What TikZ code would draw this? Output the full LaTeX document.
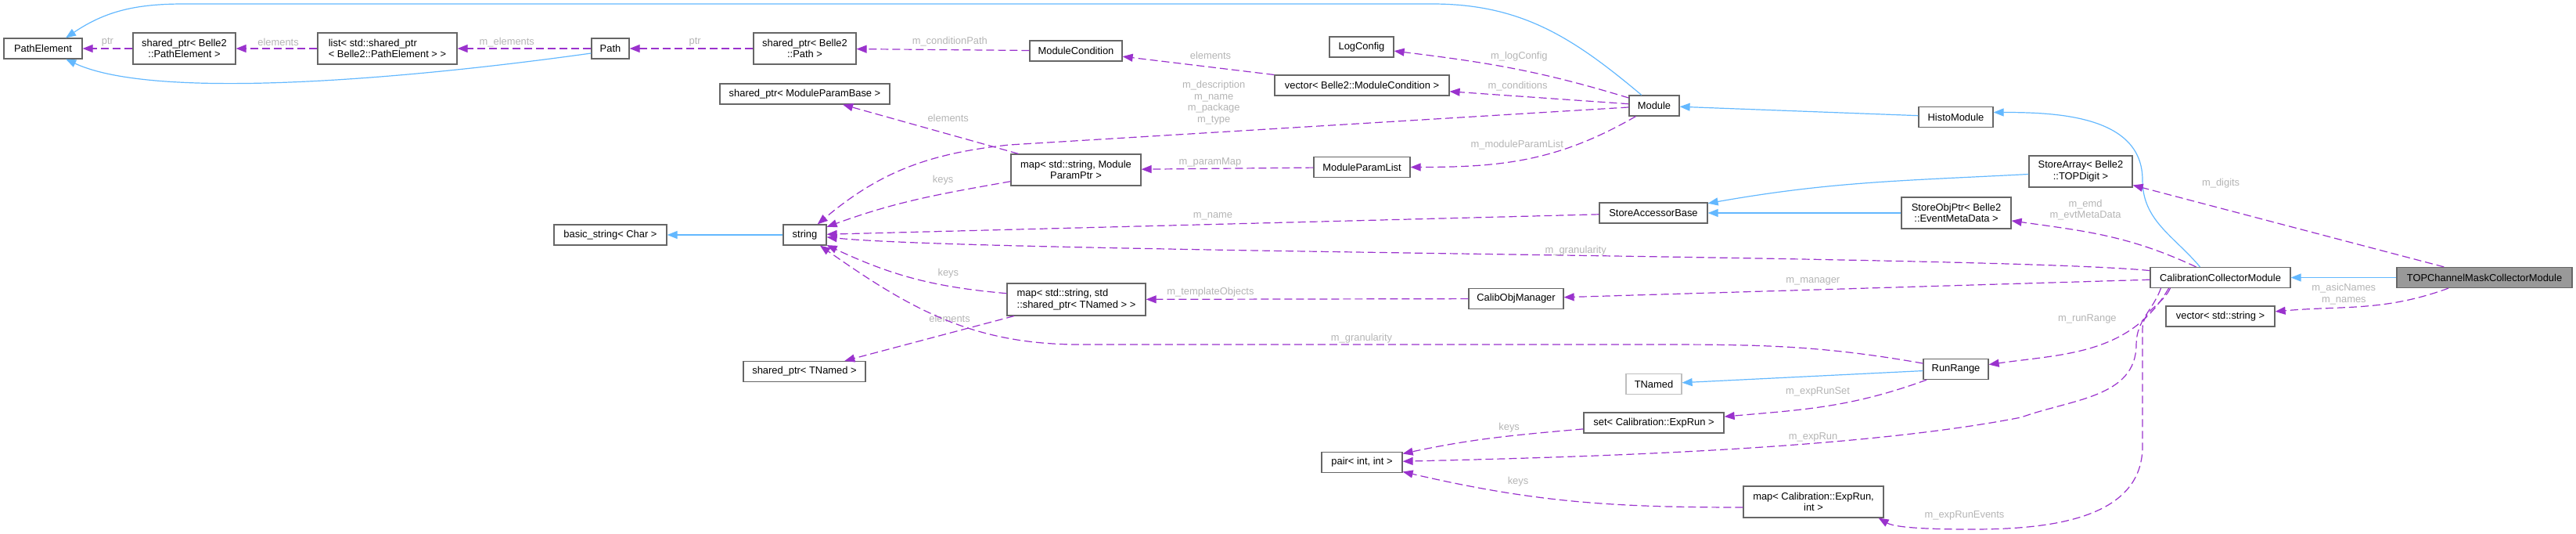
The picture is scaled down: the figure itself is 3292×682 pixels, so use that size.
\documentclass[tikz,border=0pt]{standalone}
\usepackage{fontspec}
\setmainfont{Liberation Sans}
\usetikzlibrary{arrows.meta}
\definecolor{usecolor}{HTML}{9A32CD}
\definecolor{basecolor}{HTML}{63B8FF}
\definecolor{boxgray}{HTML}{666666}
\definecolor{extgray}{HTML}{BFBFBF}
\definecolor{rootfill}{HTML}{999999}
\definecolor{labelgray}{HTML}{B4B4B4}

\begin{document}
\begin{tikzpicture}[->,>={Triangle[length=13pt,width=10pt]},x=1pt,y=-1pt,line width=1.2pt,
    class node/.style={rectangle,draw=boxgray,fill=white,text=black,inner sep=2pt,minimum height=26pt,align=center,font={\fontsize{12.9}{14.7}\selectfont}},
    root node/.style={class node,fill=rootfill},
    ext node/.style={class node,draw=extgray},
    base edge/.style={color=basecolor},
    uses edge/.style={color=usecolor,dash pattern=on 10pt off 5pt},
    edge label/.style={font={\fontsize{12.9}{14.7}\selectfont},text=labelgray,inner sep=0pt,align=center}]

\useasboundingbox (0,0) rectangle (3292,682);

\node[root node,minimum width=224pt] (1) at (3175,354.5) {TOPChannelMaskCollectorModule};
\node[class node,minimum width=179pt] (2) at (2837.5,354.5) {CalibrationCollectorModule};
\node[class node,minimum width=95pt] (3) at (2499.5,149.5) {HistoModule};
\node[class node,minimum width=64pt] (4) at (2114,135) {Module};
\node[class node,minimum width=100pt] (5) at (55,62) {PathElement};
\node[class node,minimum width=55pt] (6) at (1028.5,300) {string};
\node[class node,minimum width=144pt] (7) at (780,300) {basic\_string< Char >};
\node[class node,minimum width=166pt,minimum height=40pt] (8) at (1375,217) {map< std::string, Module\\ParamPtr >};
\node[class node,minimum width=217pt] (9) at (1028.5,120) {shared\_ptr< ModuleParamBase >};
\node[class node,minimum width=123pt] (10) at (1740.5,213.5) {ModuleParamList};
\node[class node,minimum width=82pt] (11) at (1740,60) {LogConfig};
\node[class node,minimum width=223pt] (12) at (1740.5,109) {vector< Belle2::ModuleCondition >};
\node[class node,minimum width=118pt] (13) at (1375,65) {ModuleCondition};
\node[class node,minimum width=131pt,minimum height=40pt] (14) at (1028.5,62) {shared\_ptr< Belle2\\::Path >};
\node[class node,minimum width=48pt] (15) at (780,62) {Path};
\node[class node,minimum width=178pt,minimum height=40pt,align=left] (16) at (495,62) {list< std::shared\_ptr\\< Belle2::PathElement > >};
\node[class node,minimum width=131pt,minimum height=40pt] (17) at (235.5,62) {shared\_ptr< Belle2\\::PathElement >};
\node[class node,minimum width=140pt,minimum height=40pt] (18) at (2500,272) {StoreObjPtr< Belle2\\::EventMetaData >};
\node[class node,minimum width=138pt] (19) at (2113,272) {StoreAccessorBase};
\node[class node,minimum width=121pt] (20) at (1937.5,381.5) {CalibObjManager};
\node[class node,minimum width=177pt,minimum height=41pt,align=left] (21) at (1375.5,382.5) {map< std::string, std\\::shared\_ptr< TNamed > >};
\node[class node,minimum width=156pt] (22) at (1028,474.5) {shared\_ptr< TNamed >};
\node[class node,minimum width=83pt] (23) at (2499.5,471.5) {RunRange};
\node[ext node,minimum width=71pt] (24) at (2113.5,490.5) {TNamed};
\node[class node,minimum width=179pt] (25) at (2113.5,540) {set< Calibration::ExpRun >};
\node[class node,minimum width=103pt] (26) at (1740.5,590.5) {pair< int, int >};
\node[class node,minimum width=179pt,minimum height=40pt] (27) at (2317.5,641) {map< Calibration::ExpRun,\\int >};
\node[class node,minimum width=132pt,minimum height=40pt] (28) at (2659,219) {StoreArray< Belle2\\::TOPDigit >};
\node[class node,minimum width=139pt] (29) at (2837.5,404) {vector< std::string >};

\path[base edge]
(1) edge (2)
(3) edge (4)
(6) edge (7)
(28) edge[out=183,in=10] (19)
(18) edge (19)
(23) edge (24)
([yshift=-6pt]15.west) edge[out=188,in=-25,out looseness=0.8,in looseness=0.5] (5);

\draw[base edge] (4) to[out=140,in=0] (1830,5) -- (235,5) to[out=180,in=34] ([xshift=29pt]5.north);
\draw[base edge] ([xshift=-26pt]2.north) to[out=130,in=-90] (2738,230) to[out=90,in=0] ([yshift=6pt]3.east);

\path[uses edge,every node/.style={edge label}]
(17) edge node[pos=.5,yshift=8pt] {ptr} (5)
(16) edge node[pos=.48,yshift=8pt] {elements} (17)
(15) edge node[pos=.63,yshift=8pt] {m\_elements} (16)
(14) edge node[pos=.47,yshift=8pt] {ptr} (15)
(13) edge node[pos=.46,yshift=10pt] {m\_conditionPath} (14)
(12) edge node[pos=.42,yshift=15pt] {elements} (13)
(4) edge[out=163,in=-7] node[pos=.47,yshift=17pt] {m\_logConfig} (11)
(4) edge node[pos=.62,yshift=13pt] {m\_conditions} (12)
(4) edge[out=-150,in=0] node[pos=.55,yshift=20pt] {m\_moduleParamList} (10)
(10) edge node[pos=.6,yshift=8pt] {m\_paramMap} (8)
(8) edge node[pos=.4,yshift=20pt] {elements} (9)
(8) edge[out=190,in=20] node[pos=.35,yshift=17pt] {keys} (6)
(19) edge node[pos=.5,yshift=10pt] {m\_name} (6)
(2) edge node[pos=.575,yshift=11pt] {m\_manager} (20)
(20) edge node[pos=.8,yshift=9pt] {m\_templateObjects} (21)
(21) edge[out=175,in=-25] node[pos=.3,yshift=16pt] {keys} (6)
(21) edge node[pos=.38,yshift=18pt] {elements} (22)
(23) edge[out=200,in=5] node[pos=.55,yshift=20pt] {m\_expRunSet} (25)
(25) edge[out=185,in=12] node[pos=.4,yshift=11pt] {keys} (26)
([yshift=-7pt]27.west) edge[out=180,in=-13] node[pos=.67,yshift=16pt] {keys} (26)
([xshift=-66pt]2.south) edge[out=-120,in=8] node[pos=.53,yshift=38pt] {m\_runRange} (23)
([xshift=-31pt]2.north) edge[out=155,in=-8] node[pos=.62,yshift=28pt] {m\_emd\\m\_evtMetaData} (18)
(1) edge node[pos=.717,yshift=32pt] {m\_digits} (28)
([xshift=-46pt]1.south) edge[out=-160,in=5] node[pos=.62,yshift=17pt] {m\_asicNames\\m\_names} (29);

\draw[uses edge,every node/.style={edge label}] (2) .. controls (2549,326) and (1255,323) .. (6) node[pos=.45,yshift=6pt] {m\_granularity};
\draw[uses edge,every node/.style={edge label}] (4) -- node[pos=.67,yshift=38pt] {m\_description\\m\_name\\m\_package\\m\_type} (1290,185) to[out=186,in=40] (6);
\draw[uses edge,every node/.style={edge label}] (23) to[out=170,in=0] (2100,440) -- node[pos=.5,yshift=8pt] {m\_granularity} (1380,440) to[out=180,in=-35] (6);
\draw[uses edge,every node/.style={edge label}] ([xshift=-76pt]2.south) to[out=-110,in=90] (2730,440) to[out=-90,in=20] (2583,533) .. controls (2368,575) and (2011,584) .. (26) node[pos=.35,yshift=8pt] {m\_expRun};
\draw[uses edge,every node/.style={edge label}] ([xshift=-64pt]2.south) to[out=-115,in=90] (2738,420) -- (2738,570) to[out=-90,in=0] (2520,676) to[out=180,in=-30,looseness=.6] node[pos=.1,yshift=18pt] {m\_expRunEvents} ([xshift=-7pt]27.south east);

\end{tikzpicture}
\end{document}
